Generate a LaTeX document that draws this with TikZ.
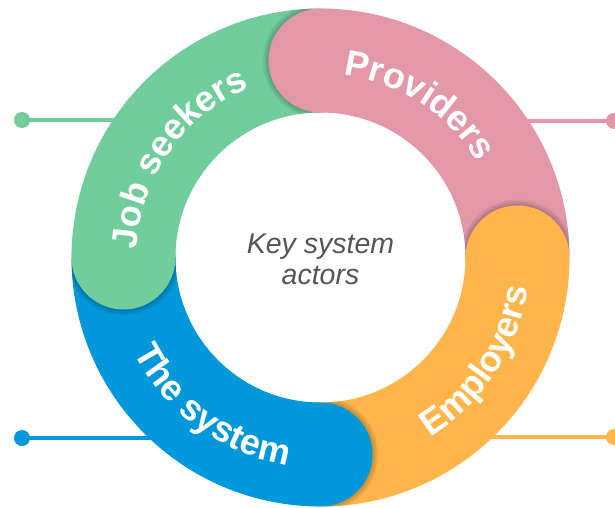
\documentclass[tikz,border=0pt]{standalone}
\usepackage{fontspec}
\setmainfont{Liberation Sans}
\usetikzlibrary{calc,decorations.text}

\definecolor{seekgreen}{RGB}{114,205,157}
\definecolor{provpink}{RGB}{226,152,167}
\definecolor{emporange}{RGB}{253,181,76}
\definecolor{sysblue}{RGB}{0,152,218}
\definecolor{captiongray}{RGB}{85,85,85}

\newcommand\ringlabelfont{\bfseries\fontsize{36}{36}\selectfont}

\begin{document}
\begin{tikzpicture}[x=1pt,y=1pt,
  band/.style={line width=104pt},
  leader/.style={line width=4pt},
  enddot/.style={circle, inner sep=0pt, minimum size=16pt},
  caption/.style={align=center, text=captiongray,
    font=\itshape\fontsize{28.5}{31}\selectfont},
  ringlabel/.style={decorate, decoration={text along path, text align=center,
    text color=white, text={|\ringlabelfont|#1}}}
]
\useasboundingbox (0,0) rectangle (615,507);
\coordinate (C) at (320.5,249.5);

% leader lines with their end dots (behind the ring)
\node[enddot, fill=seekgreen] (dotseek) at (22,387) {};
\node[enddot, fill=provpink]  (dotprov) at (614,386) {};
\node[enddot, fill=sysblue]   (dotsys)  at (22,69) {};
\node[enddot, fill=emporange] (dotemp)  at (614,70) {};
\coordinate (endseek) at (160,387);
\coordinate (endprov) at (480,386);
\coordinate (endsys)  at (190,69);
\coordinate (endemp)  at (450,70);
\draw[leader, seekgreen] (dotseek.center) -- (endseek);
\draw[leader, provpink]  (dotprov.center) -- (endprov);
\draw[leader, sysblue]   (dotsys.center)  -- (endsys);
\draw[leader, emporange] (dotemp.center)  -- (endemp);

% the four quarter bands
\draw[band, provpink]  ($(C)+(0:197)$)   arc[start angle=0,   end angle=90,  radius=197];
\draw[band, seekgreen] ($(C)+(90:197)$)  arc[start angle=90,  end angle=180, radius=197];
\draw[band, sysblue]   ($(C)+(180:197)$) arc[start angle=180, end angle=270, radius=197];
\draw[band, emporange] ($(C)+(270:197)$) arc[start angle=270, end angle=360, radius=197];

% soft shadow cast by each rounded end onto the next band
\foreach \a in {0,90,180,270} {
  \begin{scope}
    \clip ($(C)+(\a:249)$) arc[start angle=\a, end angle=\a+60, radius=249]
      -- ($(C)+(\a+60:145)$) arc[start angle=\a+60, end angle=\a, radius=145] -- cycle;
    \foreach \k in {1,...,6}
      \fill[black, opacity=0.035] ($(C)+(\a:197)$) circle[radius=52+\k];
  \end{scope}
}

% rounded ends
\fill[emporange] ($(C)+(0:197)$)   circle[radius=52];
\fill[provpink]  ($(C)+(90:197)$)  circle[radius=52];
\fill[seekgreen] ($(C)+(180:197)$) circle[radius=52];
\fill[sysblue]   ($(C)+(270:197)$) circle[radius=52];

% curved labels
\path[ringlabel=Job seekers] ($(C)+(200:184)$) arc[start angle=200, end angle=90, radius=184];
\path[ringlabel=Providers]   ($(C)+(112:184)$) arc[start angle=112, end angle=2, radius=184];
\path[ringlabel=Employers]   ($(C)+(-88.5:210)$) arc[start angle=-88.5, end angle=21.5, radius=210];
\path[ringlabel=The system]  ($(C)+(179:210)$) arc[start angle=179, end angle=289, radius=210];

% centre caption
\node[caption] (title) at (320.5,248) {Key system\\actors};
\end{tikzpicture}
\end{document}
